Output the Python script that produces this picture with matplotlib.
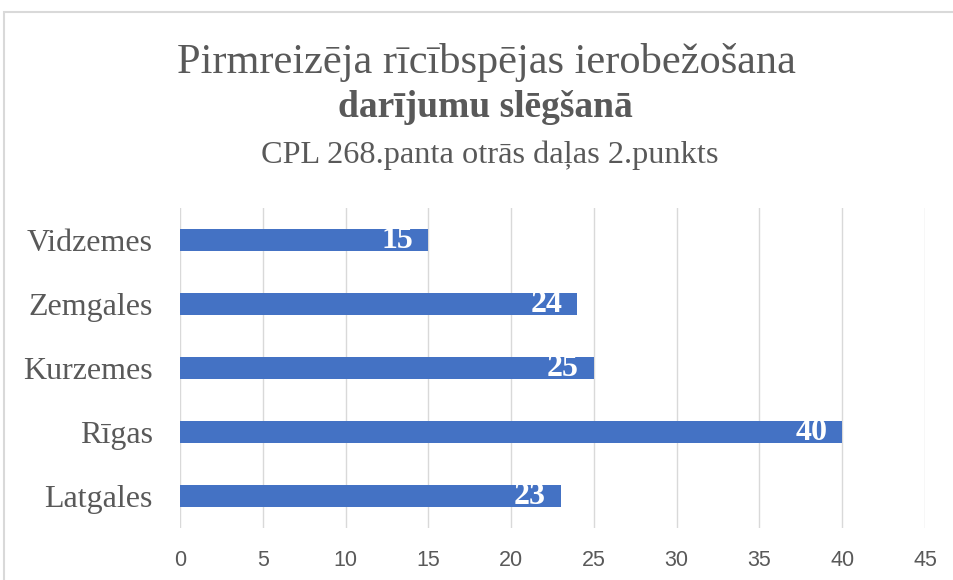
import matplotlib.pyplot as plt
from matplotlib.patches import Rectangle

## DATI

regioni = ["Latgales", "Rīgas", "Kurzemes", "Zemgales", "Vidzemes"]
vertibas = [23, 40, 25, 24, 15]
x_ticki = [0, 5, 10, 15, 20, 25, 30, 35, 40, 45]

virsraksts = "Pirmreizēja rīcībspējas ierobežošana"
virsraksts2 = "darījumu slēgšanā"
apaksvirsraksts = "CPL 268.panta otrās daļas 2.punkts"

## STILS

zils = "#4472C4"
teksts = "#595959"
serif = ["Liberation Serif", "DejaVu Serif"]
sans = ["Liberation Sans", "DejaVu Sans"]

W, H = 954, 580
fig = plt.figure(figsize=(W / 100, H / 100), dpi=100)

# rāmis ap diagrammu
fig.patches.append(Rectangle((4 / W, -0.05), 1.2, 1 - 12 / H + 0.05, transform=fig.transFigure,
                             fill=False, edgecolor="#D9D9D9", linewidth=1.5))

ax = fig.add_axes([180 / W, 1 - 528 / H, (925 - 180) / W, (528 - 208) / H])

ax.barh(range(len(regioni)), vertibas, height=0.35, color=zils, zorder=3)
for i, v in enumerate(vertibas):
    ax.text(v - 0.9, i, str(v), ha="right", va="center", color="white",
            fontsize=23, fontweight="bold", family=serif, zorder=4)

ax.set_xlim(0, 45)
ax.set_ylim(-0.5, len(regioni) - 0.5)
ax.set_xticks(x_ticki)
ax.set_yticks(range(len(regioni)))
ax.set_yticklabels(regioni, family=serif, fontsize=23, color=teksts)
ax.set_xticklabels([str(t) for t in x_ticki], family=sans, fontsize=15.5, color=teksts)
ax.tick_params(axis="both", length=0)
ax.tick_params(axis="y", pad=19.5)
ax.tick_params(axis="x", pad=16)
ax.grid(axis="x", color="#D9D9D9", linewidth=1, zorder=0)
for s in ax.spines.values():
    s.set_visible(False)

fig.text(486 / W, 1 - 73 / H, virsraksts, ha="center", va="baseline",
         family=serif, fontsize=30.5, color=teksts)
fig.text(485 / W, 1 - 117 / H, virsraksts2, ha="center", va="baseline",
         family=serif, fontsize=27, fontweight="bold", color=teksts)
fig.text(490 / W, 1 - 163 / H, apaksvirsraksts, ha="center", va="baseline",
         family=serif, fontsize=23.3, color=teksts)

fig.savefig("out.png", dpi=100)
